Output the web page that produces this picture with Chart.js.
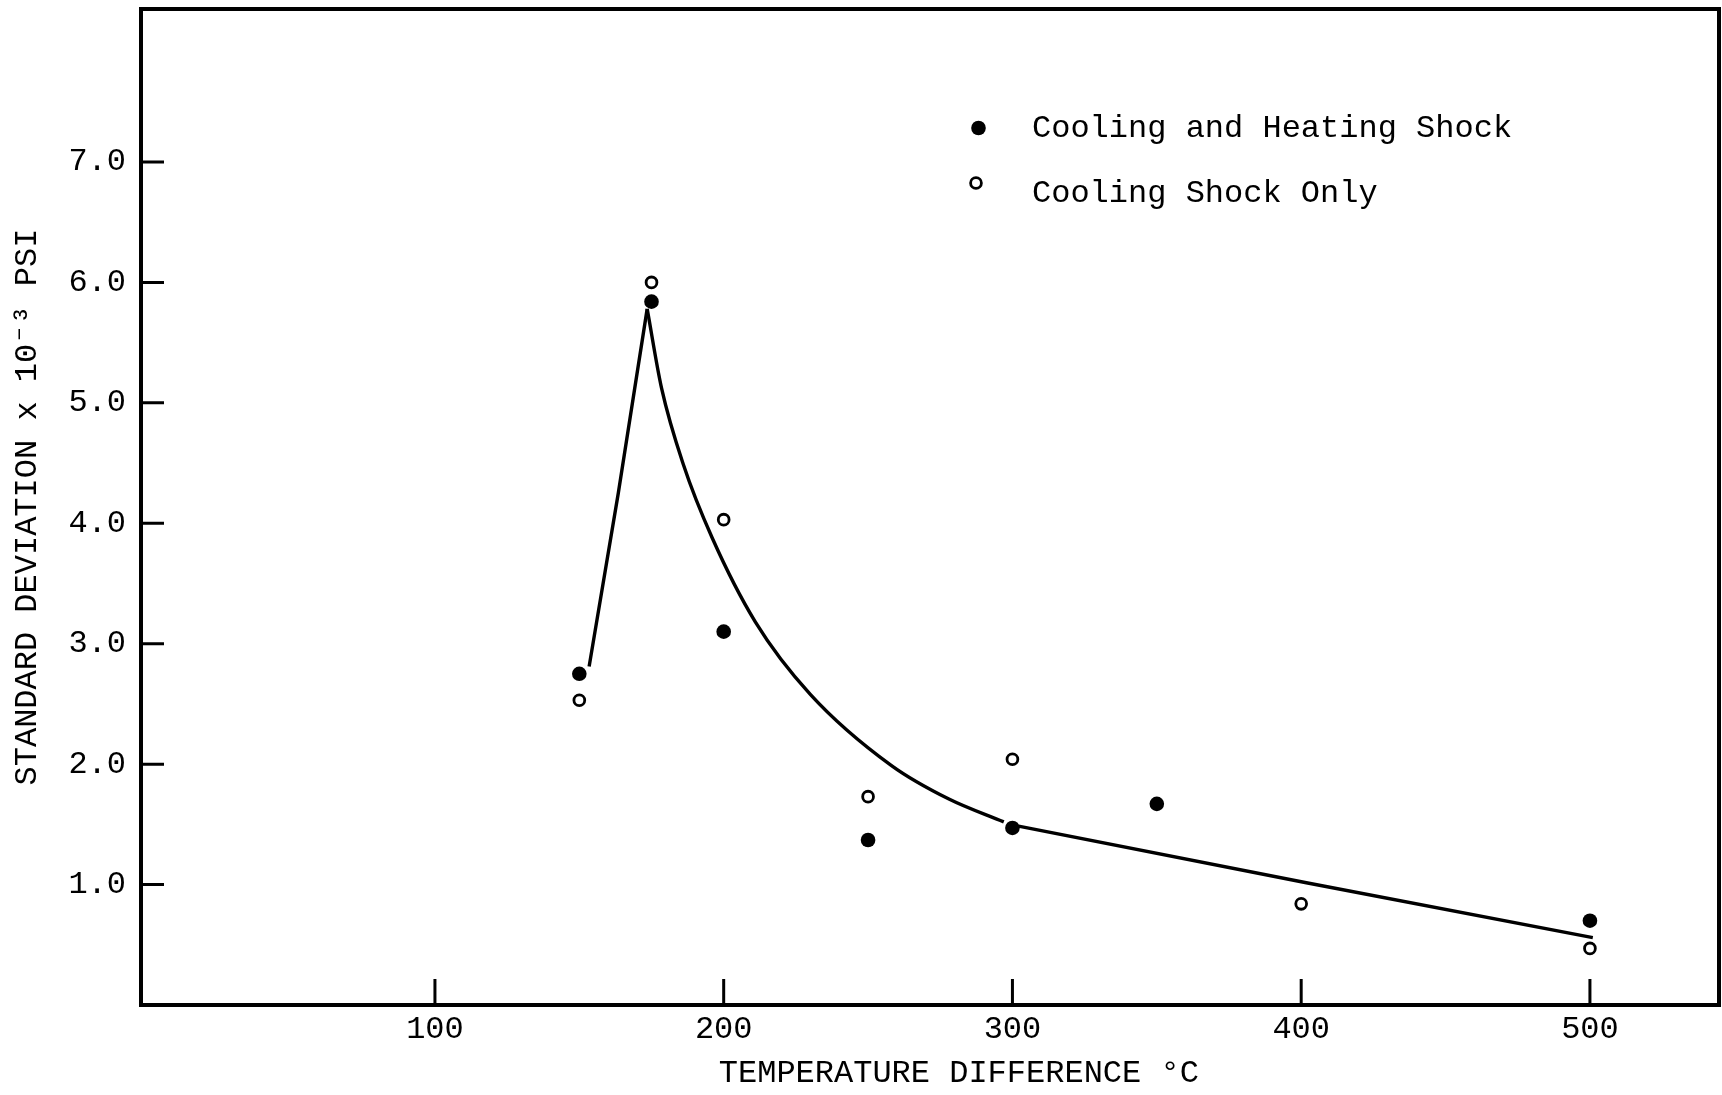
<!DOCTYPE html>
<html>
<head>
<meta charset="utf-8">
<title>Standard deviation vs temperature difference</title>
<script src="https://cdn.jsdelivr.net/npm/chart.js@4.4.1/dist/chart.umd.min.js"></script>
<style>
  html, body { margin: 0; padding: 0; background: #fff; }
  #wrap { width: 1722px; height: 1095px; }
  canvas { display: block; }
</style>
</head>
<body>
<div id="wrap"><canvas id="chart" width="1722" height="1095"></canvas></div>
<script>
// Specimens given both cooling and heating shock
const tempCoolHeat = [150, 175, 200, 250, 300, 350, 500];
const sdCoolHeat   = [2.75, 5.84, 3.10, 1.37, 1.47, 1.67, 0.70];

// Specimens given cooling shock only
const tempCoolOnly = [150, 175, 200, 250, 300, 400, 500];
const sdCoolOnly   = [2.53, 6.00, 4.03, 1.73, 2.04, 0.84, 0.47];

// Drawn trend line: rising branch, decaying branch, straight tail
const riseX  = [153.4, 163.5, 173.5];
const riseY  = [2.81, 4.25, 5.78];
const decayX = [173.5, 178.5, 186.0, 196.0, 211.0, 230.0, 258.0, 278.0, 297.0];
const decayY = [5.78, 5.12, 4.49, 3.88, 3.18, 2.58, 1.99, 1.71, 1.52];
const tailX  = [302.1, 401.8, 501.0];
const tailY  = [1.485, 1.015, 0.56];

// Axis ticks and ranges
const xTicks = [100, 200, 300, 400, 500];
const yTicks = [1, 2, 3, 4, 5, 6, 7];
const xRange = [-1.8, 544.7];
const yRange = [0, 8.27];

const xTitle = 'TEMPERATURE DIFFERENCE °C';
const yTitle = 'STANDARD DEVIATION x 10\u207B\u00B3 PSI';

const FONT = '"Liberation Mono", "DejaVu Sans Mono", monospace';
const INK = '#000';

const pts = (xs, ys) => xs.map((x, i) => ({ x, y: ys[i] }));

// Closed frame plus inward tick marks taken from the scales
const framePlugin = {
  id: 'frame',
  beforeDatasetsDraw(chart) {
    const { ctx, chartArea: a, scales: { x, y } } = chart;
    ctx.save();
    ctx.strokeStyle = INK;
    ctx.lineWidth = 4;
    ctx.strokeRect(a.left, a.top, a.right - a.left, a.bottom - a.top);
    ctx.lineWidth = 3;
    ctx.beginPath();
    x.ticks.forEach(t => {
      const px = x.getPixelForValue(t.value);
      ctx.moveTo(px, a.bottom);
      ctx.lineTo(px, a.bottom - 26);
    });
    y.ticks.forEach(t => {
      const py = y.getPixelForValue(t.value);
      ctx.moveTo(a.left, py);
      ctx.lineTo(a.left + 23, py);
    });
    ctx.stroke();
    ctx.restore();
  }
};

// Key in the upper right of the plot, markers styled from their datasets
const keyPlugin = {
  id: 'key',
  afterDatasetsDraw(chart) {
    const { ctx, chartArea: a } = chart;
    const rows = [
      { ds: 0, mx: 837.5, my: 119, ty: 127.5 },
      { ds: 1, mx: 835,   my: 174, ty: 192.5 }
    ];
    ctx.save();
    rows.forEach(r => {
      const d = chart.data.datasets[r.ds];
      ctx.beginPath();
      ctx.arc(a.left + r.mx, a.top + r.my, d.pointRadius, 0, Math.PI * 2);
      ctx.fillStyle = d.pointBackgroundColor;
      ctx.fill();
      if (d.pointBorderWidth > 0) {
        ctx.lineWidth = d.pointBorderWidth;
        ctx.strokeStyle = d.pointBorderColor;
        ctx.stroke();
      }
      ctx.fillStyle = INK;
      ctx.font = '32px ' + FONT;
      ctx.textAlign = 'left';
      ctx.textBaseline = 'alphabetic';
      ctx.fillText(d.label, a.left + 891, a.top + r.ty);
    });
    ctx.restore();
  }
};

const lineStyle = {
  showLine: true,
  pointRadius: 0,
  pointHoverRadius: 0,
  borderColor: INK,
  borderWidth: 3.4,
  fill: false
};

new Chart(document.getElementById('chart'), {
  type: 'scatter',
  data: {
    datasets: [
      {
        label: 'Cooling and Heating Shock',
        data: pts(tempCoolHeat, sdCoolHeat),
        pointStyle: 'circle',
        pointRadius: 7.3,
        pointBackgroundColor: INK,
        pointBorderColor: INK,
        pointBorderWidth: 0,
        showLine: false
      },
      {
        label: 'Cooling Shock Only',
        data: pts(tempCoolOnly, sdCoolOnly),
        pointStyle: 'circle',
        pointRadius: 5.4,
        pointBackgroundColor: '#fff',
        pointBorderColor: INK,
        pointBorderWidth: 2.8,
        showLine: false
      },
      Object.assign({ label: 'rise', data: pts(riseX, riseY), tension: 0 }, lineStyle),
      Object.assign({ label: 'decay', data: pts(decayX, decayY), cubicInterpolationMode: 'monotone' }, lineStyle),
      Object.assign({ label: 'tail', data: pts(tailX, tailY), tension: 0 }, lineStyle)
    ]
  },
  options: {
    responsive: false,
    animation: false,
    devicePixelRatio: 1,
    events: [],
    layout: { autoPadding: false, padding: { top: 9, right: 3, left: 0, bottom: 0 } },
    plugins: {
      legend: { display: false },
      tooltip: { enabled: false }
    },
    scales: {
      x: {
        type: 'linear',
        min: xRange[0],
        max: xRange[1],
        afterBuildTicks: s => { s.ticks = xTicks.map(v => ({ value: v })); },
        afterFit: s => { s.height = 90; s.paddingLeft = 0; s.paddingRight = 0; },
        grid: { display: false, drawTicks: false },
        border: { display: false },
        ticks: {
          font: { family: FONT, size: 32 },
          color: INK,
          padding: 5,
          maxRotation: 0,
          autoSkip: false,
          callback: v => String(v)
        },
        title: {
          display: true,
          text: '   ' + xTitle,
          font: { family: FONT, size: 32 },
          color: INK,
          padding: { top: 0, bottom: 2 }
        }
      },
      y: {
        type: 'linear',
        min: yRange[0],
        max: yRange[1],
        afterBuildTicks: s => { s.ticks = yTicks.map(v => ({ value: v })); },
        afterFit: s => { s.width = 141; s.paddingTop = 0; s.paddingBottom = 0; },
        grid: { display: false, drawTicks: false },
        border: { display: false },
        ticks: {
          font: { family: FONT, size: 32 },
          color: INK,
          padding: 15,
          autoSkip: false,
          callback: v => v.toFixed(1)
        },
        title: {
          display: true,
          text: yTitle,
          font: { family: FONT, size: 32 },
          color: INK,
          padding: { top: 8, bottom: 0 }
        }
      }
    }
  },
  plugins: [framePlugin, keyPlugin]
});
</script>
</body>
</html>
